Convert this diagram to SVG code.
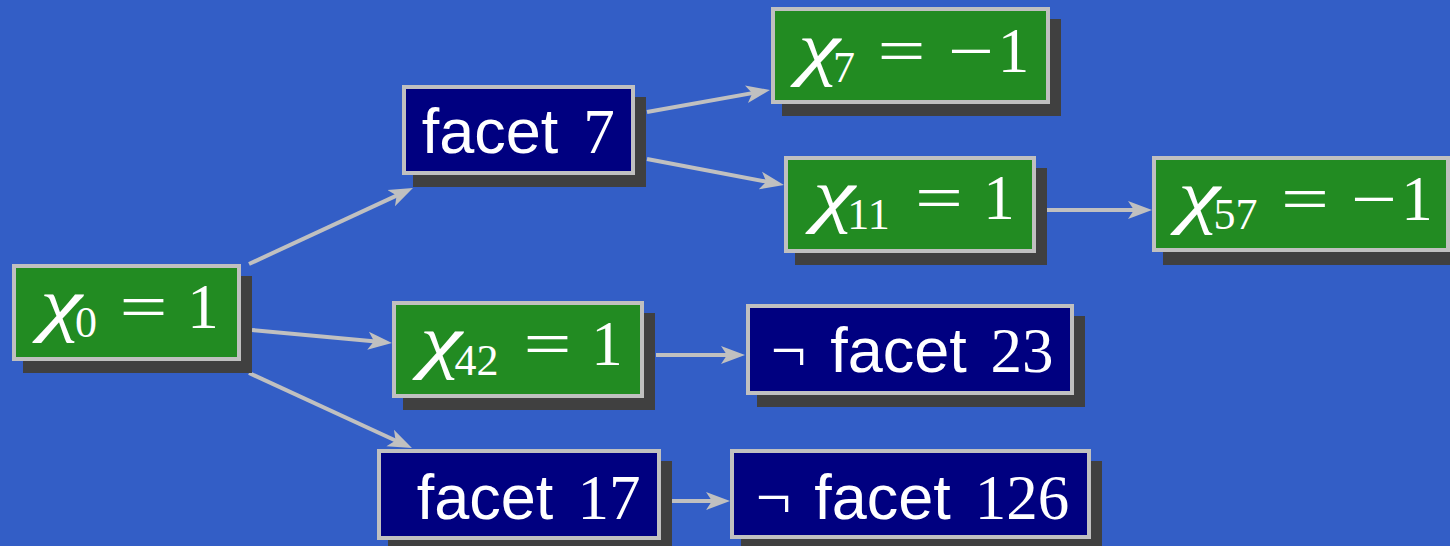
<svg xmlns="http://www.w3.org/2000/svg" width="1450" height="546" viewBox="0 0 1450 546">
<defs>
<marker id="ah" markerUnits="userSpaceOnUse" viewBox="0 0 24 20" refX="16" refY="10" markerWidth="24" markerHeight="20" orient="auto">
<path d="M0,1 L24,10 L0,19 L6,10 Z" fill="#c0c0c0"/>
</marker>
<style>
.bg{fill:#335ec6}
.sh{fill:#404040}
.g{fill:#228b22;stroke:#c0c0c0;stroke-width:4}
.b{fill:#000080;stroke:#c0c0c0;stroke-width:4}
.c{stroke:#c0c0c0;stroke-width:4;fill:none;marker-end:url(#ah)}
text{fill:#fff;text-anchor:middle}
.m{font-family:"Liberation Serif",serif;font-size:63px}
.x{font-family:"Liberation Serif",serif;font-style:italic;font-size:72px}
.s{font-family:"Liberation Serif",serif;font-size:44px}
.f{font-family:"Liberation Sans",sans-serif;font-size:63px}
</style>
</defs>
<rect class="bg" x="0" y="0" width="1450" height="546"/>
<g id="connectors">
<line class="c" x1="249" y1="264" x2="405.7" y2="191.4"/>
<line class="c" x1="252" y1="330" x2="384" y2="342.3"/>
<line class="c" x1="249" y1="373" x2="404.7" y2="444.7"/>
<line class="c" x1="647" y1="112" x2="762.1" y2="91.4"/>
<line class="c" x1="647" y1="159" x2="776.1" y2="183.5"/>
<line class="c" x1="1047" y1="210" x2="1144" y2="210"/>
<line class="c" x1="656" y1="355" x2="737" y2="355"/>
<line class="c" x1="672" y1="501" x2="722" y2="501"/>
</g>
<g id="chi0">
<rect class="sh" x="23" y="276" width="229" height="97"/>
<rect class="g" x="14" y="266" width="225" height="93"/>
<text class="x" x="61" y="328" textLength="42" lengthAdjust="spacingAndGlyphs">χ</text>
<text class="s" x="86" y="337">0</text>
<text class="m" x="143.5" y="328" textLength="48" lengthAdjust="spacingAndGlyphs">=</text>
<text class="m" x="203" y="328">1</text>
</g>
<g id="facet7">
<rect class="sh" x="413" y="97" width="233" height="90"/>
<rect class="b" x="404" y="87" width="229" height="86"/>
<text class="f" x="490" y="153">facet</text>
<text class="m" x="599" y="153">7</text>
</g>
<g id="chi7">
<rect class="sh" x="782" y="19" width="279" height="97"/>
<rect class="g" x="773" y="9" width="275" height="93"/>
<text class="x" x="819" y="72" textLength="42" lengthAdjust="spacingAndGlyphs">χ</text>
<text class="s" x="844" y="82">7</text>
<text class="m" x="901.5" y="72" textLength="48" lengthAdjust="spacingAndGlyphs">=</text>
<text class="m" x="971" y="72" textLength="46" lengthAdjust="spacingAndGlyphs">−</text>
<text class="m" x="1013.5" y="72">1</text>
</g>
<g id="chi11">
<rect class="sh" x="795" y="168" width="252" height="97"/>
<rect class="g" x="786" y="158" width="248" height="93"/>
<text class="x" x="834" y="219" textLength="42" lengthAdjust="spacingAndGlyphs">χ</text>
<text class="s" x="868.5" y="229">11</text>
<text class="m" x="939" y="219" textLength="48" lengthAdjust="spacingAndGlyphs">=</text>
<text class="m" x="999" y="219">1</text>
</g>
<g id="chi57">
<rect class="sh" x="1163" y="168" width="298" height="97"/>
<rect class="g" x="1154" y="158" width="294" height="92"/>
<text class="x" x="1199" y="220" textLength="42" lengthAdjust="spacingAndGlyphs">χ</text>
<text class="s" x="1235.5" y="229">57</text>
<text class="m" x="1305" y="220" textLength="48" lengthAdjust="spacingAndGlyphs">=</text>
<text class="m" x="1374" y="220" textLength="46" lengthAdjust="spacingAndGlyphs">−</text>
<text class="m" x="1417" y="220">1</text>
</g>
<g id="chi42">
<rect class="sh" x="403" y="313" width="252" height="97"/>
<rect class="g" x="394" y="303" width="248" height="93"/>
<text class="x" x="441" y="365" textLength="42" lengthAdjust="spacingAndGlyphs">χ</text>
<text class="s" x="476.5" y="375">42</text>
<text class="m" x="547.5" y="365" textLength="48" lengthAdjust="spacingAndGlyphs">=</text>
<text class="m" x="607" y="365">1</text>
</g>
<g id="notfacet23">
<rect class="sh" x="757" y="316" width="328" height="91"/>
<rect class="b" x="748" y="306" width="324" height="87"/>
<text class="m" x="788.5" y="372">¬</text>
<text class="f" x="898.5" y="372">facet</text>
<text class="m" x="1022" y="372">23</text>
</g>
<g id="facet17">
<rect class="sh" x="388" y="461" width="284" height="91"/>
<rect class="b" x="379" y="451" width="280" height="87"/>
<text class="f" x="485" y="519">facet</text>
<text class="m" x="609" y="519">17</text>
</g>
<g id="notfacet126">
<rect class="sh" x="741" y="461" width="361" height="90"/>
<rect class="b" x="732" y="451" width="357" height="86"/>
<text class="m" x="773.5" y="519">¬</text>
<text class="f" x="882.5" y="519">facet</text>
<text class="m" x="1022" y="519">126</text>
</g>
</svg>
